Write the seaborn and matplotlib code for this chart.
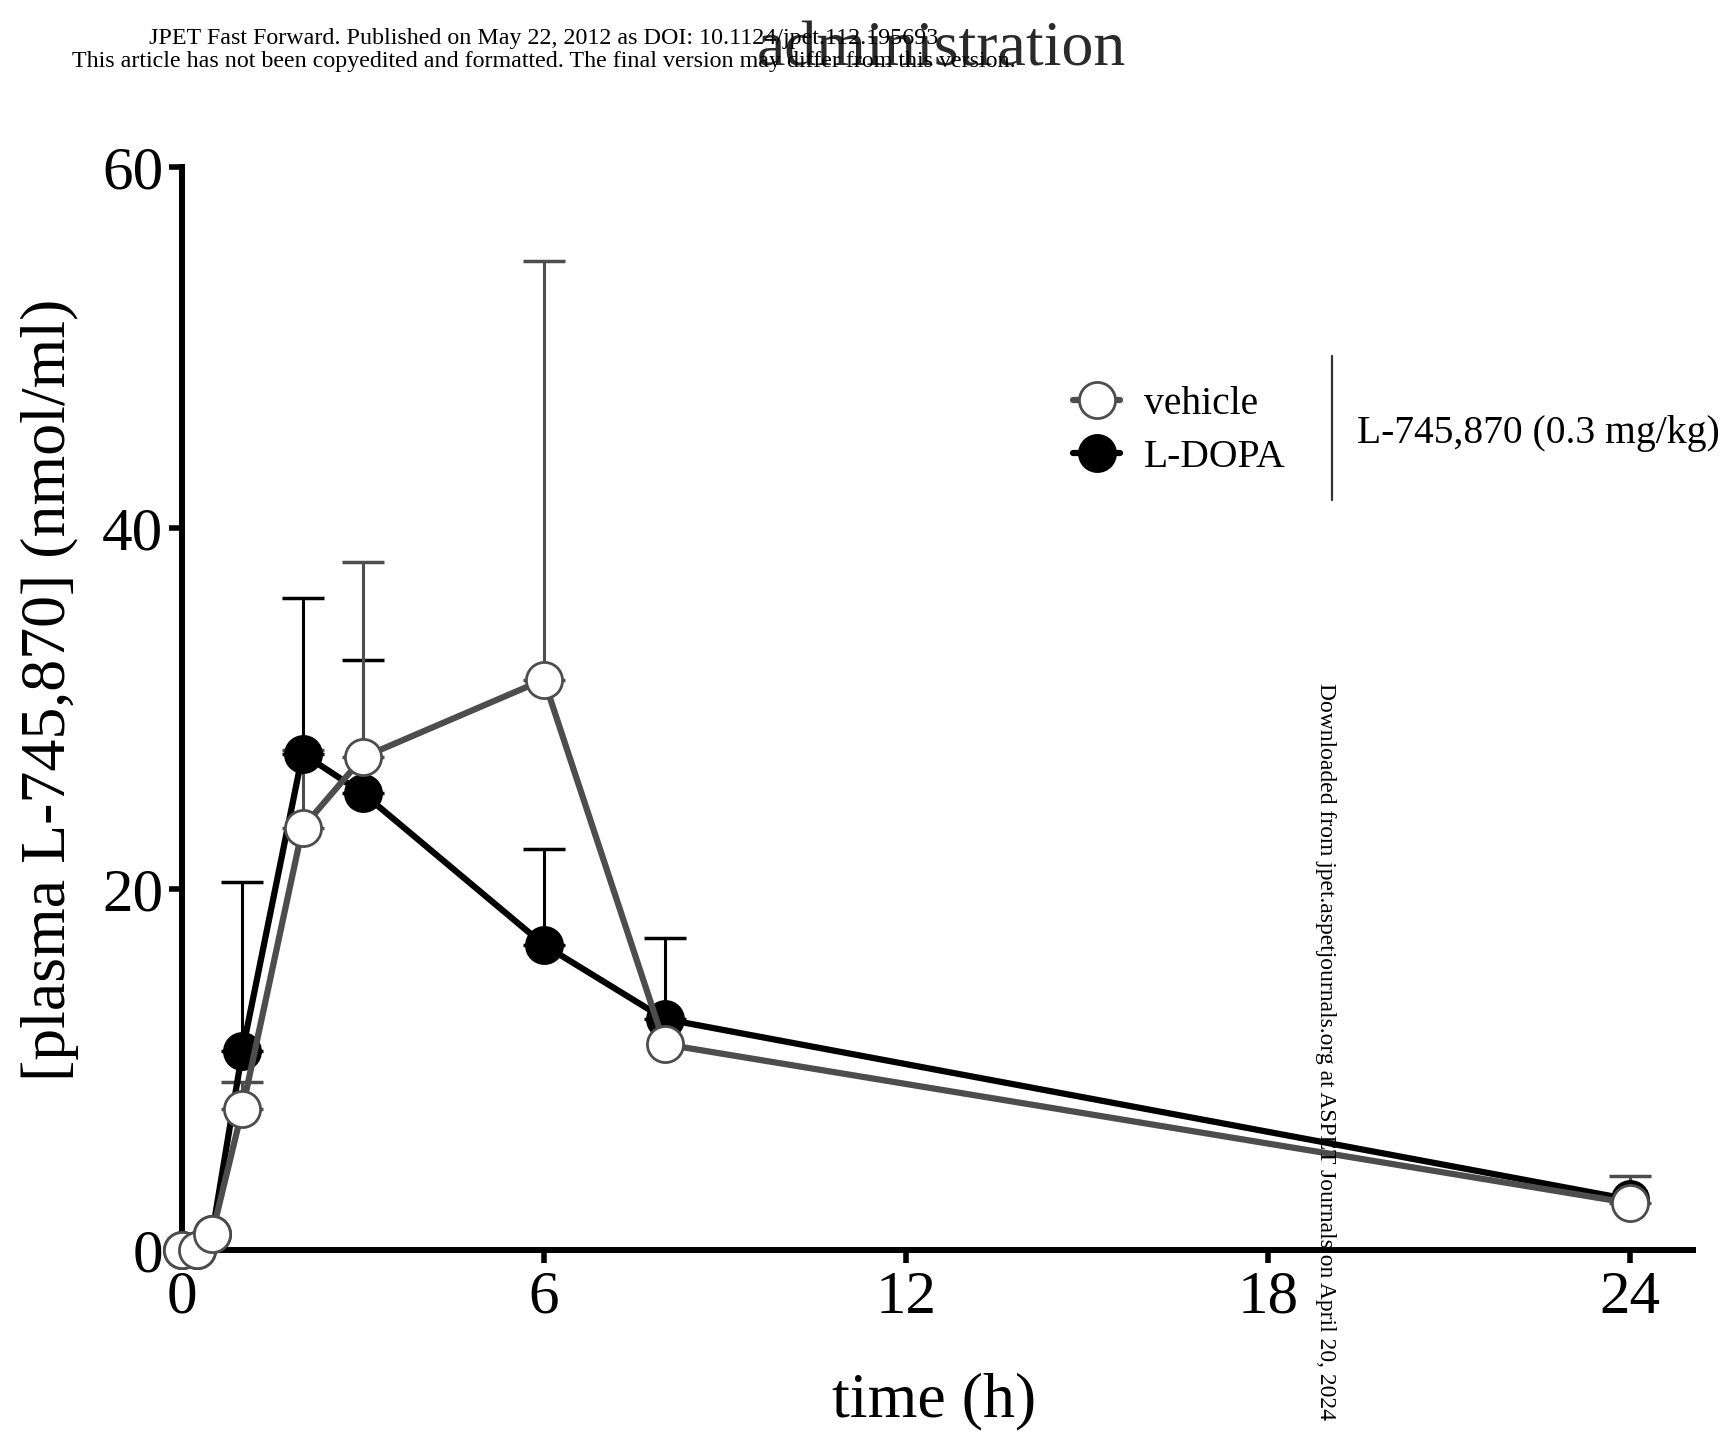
import numpy as np
import matplotlib
matplotlib.use("Agg")
import matplotlib.pyplot as plt
from matplotlib.lines import Line2D
import seaborn as sns

# sampling times (h)
time_h = [0, 0.25, 0.5, 1, 2, 3, 6, 8, 24]

# plasma L-745,870 (nmol/ml), mean and upper SEM
vehicle_mean = [0, 0, 0.9, 7.8, 23.4, 27.3, 31.6, 11.4, 2.6]
vehicle_sem = [0, 0, 0, 1.5, 4.3, 10.8, 23.2, 0, 1.5]
ldopa_mean = [0, 0, 0.9, 11.0, 27.5, 25.3, 16.9, 12.8, 2.8]
ldopa_sem = [0, 0, 0, 9.4, 8.6, 7.4, 5.3, 4.5, 0]

x_ticks = [0, 6, 12, 18, 24]
y_ticks = [0, 20, 40, 60]

VEH = "#4d4d4d"
W, H = 1733, 1436

sns.set_style("ticks")
plt.rcParams["font.family"] = ["Liberation Serif", "DejaVu Serif"]
plt.rcParams["text.color"] = "black"
plt.rcParams["xtick.color"] = "black"
plt.rcParams["ytick.color"] = "black"
plt.rcParams["xtick.labelcolor"] = "black"
plt.rcParams["ytick.labelcolor"] = "black"

fig = plt.figure(figsize=(W / 100, H / 100), dpi=100)
ax = fig.add_axes([182 / W, 1 - 1250 / H, (1693 - 182) / W, (1250 - 167) / H])

# error bars (upper only), behind markers
for mean, sem, col in [(ldopa_mean, ldopa_sem, "black"), (vehicle_mean, vehicle_sem, VEH)]:
    t = [a for a, s in zip(time_h, sem) if s > 0]
    m = [b for b, s in zip(mean, sem) if s > 0]
    e = [s for s in sem if s > 0]
    ax.errorbar(t, m, yerr=[np.zeros(len(e)), e], fmt="none", ecolor=col,
                elinewidth=2.2, capsize=15, capthick=2.5, zorder=2.6, clip_on=False)

sns.lineplot(x=time_h, y=ldopa_mean, ax=ax, color="black", marker="o", markersize=26,
             markerfacecolor="black", markeredgecolor="black", markeredgewidth=2,
             linewidth=4.5, label="L-DOPA", zorder=3, clip_on=False)
sns.lineplot(x=time_h, y=vehicle_mean, ax=ax, color=VEH, marker="o", markersize=26,
             markerfacecolor="white", markeredgecolor=VEH, markeredgewidth=2,
             linewidth=4.5, label="vehicle", zorder=4, clip_on=False)

ax.set_xlim(0, 25.05)
ax.set_ylim(0, 60)
ax.set_xticks(x_ticks)
ax.set_yticks(y_ticks)
ax.set_xlabel("")
ax.set_ylabel("")
for s in ["top", "right"]:
    ax.spines[s].set_visible(False)
for s in ["left", "bottom"]:
    ax.spines[s].set_linewidth(4.3)
    ax.spines[s].set_color("black")
ax.tick_params(axis="both", length=9.5, width=4, labelsize=44, color="black")
ax.tick_params(axis="y", pad=4)
ax.tick_params(axis="x", pad=5)

handles, labels = ax.get_legend_handles_labels()
order = [labels.index("vehicle"), labels.index("L-DOPA")]
ax.legend([handles[i] for i in order], [labels[i] for i in order],
          loc="upper left", bbox_to_anchor=(1073 / W, 1 - 386 / H),
          bbox_transform=fig.transFigure, frameon=False, fontsize=28.5,
          handlelength=1.2, handletextpad=0.6, labelspacing=0.4,
          borderpad=0, borderaxespad=0)

fig.add_artist(Line2D([1332 / W, 1332 / W], [1 - 356 / H, 1 - 500 / H],
                      transform=fig.transFigure, color="#333333", lw=1.6))
fig.text(1357 / W, 1 - 433 / H, "L-745,870 (0.3 mg/kg)", va="center", fontsize=28.5)

fig.text(50 / W, 1 - 690 / H, "[plasma L-745,870] (nmol/ml)", rotation=90,
         ha="center", va="center", fontsize=46)
fig.text(934 / W, 1 - 1401 / H, "time (h)", ha="center", va="center", fontsize=46)

# page furniture from the source PDF
fig.text(941 / W, 1 - 66 / H, "administration", ha="center", va="baseline",
         fontsize=46, color="#2a2a2a", zorder=0)
fig.text(544 / W, 1 - 44 / H,
         "JPET Fast Forward. Published on May 22, 2012 as DOI: 10.1124/jpet.112.195693",
         ha="center", va="baseline", fontsize=17.3)
fig.text(544 / W, 1 - 67 / H,
         "This article has not been copyedited and formatted. The final version may differ from this version.",
         ha="center", va="baseline", fontsize=17.3)
fig.text(1326 / W, 1 - 683 / H,
         "Downloaded from jpet.aspetjournals.org at ASPET Journals on April 20, 2024",
         rotation=-90, ha="center", va="top", fontsize=17)

fig.savefig("out.png", dpi=100)
